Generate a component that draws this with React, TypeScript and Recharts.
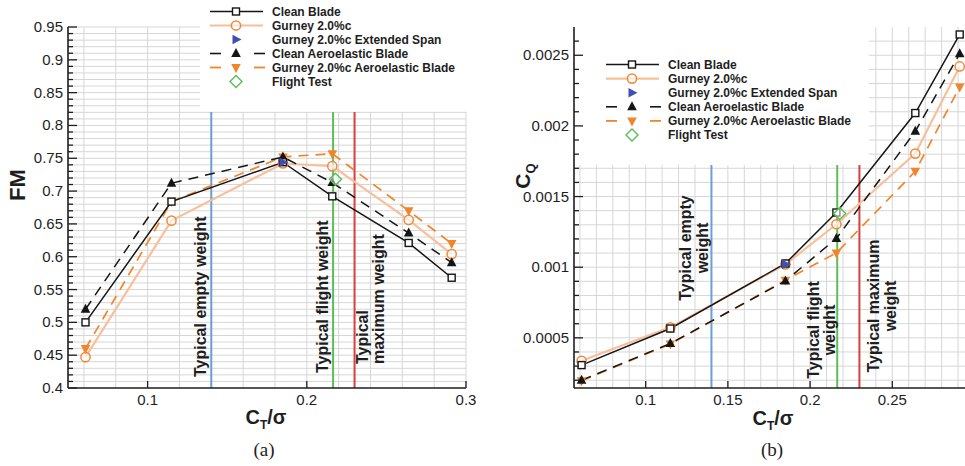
import React from 'react';
import { LineChart, Line, XAxis, YAxis, CartesianGrid, ReferenceLine } from 'recharts';

// ---- data -------------------------------------------------------------
const ctSigma = [0.061, 0.115, 0.185, 0.216, 0.264, 0.291];

const fmClean = [0.5, 0.684, 0.744, 0.692, 0.621, 0.568];
const fmGurney = [0.447, 0.655, 0.742, 0.738, 0.656, 0.604];
const fmCleanAero = [0.52, 0.712, 0.752, 0.713, 0.636, 0.591];
const fmGurneyAero = [0.46, 0.684, 0.752, 0.757, 0.67, 0.62];

const cqClean = [0.000307, 0.000566, 0.001026, 0.001387, 0.002091, 0.002647];
const cqGurney = [0.000338, 0.000574, 0.00102, 0.001304, 0.001804, 0.002421];
const cqCleanAero = [0.0002, 0.00046, 0.000903, 0.001203, 0.001962, 0.002511];
const cqGurneyAero = [0.000196, 0.000456, 0.000908, 0.001101, 0.001679, 0.002275];

const extSpanCt = [0.185];
const fmExtSpan = [0.744];
const cqExtSpan = [0.00102];

const flightCt = [0.218];
const fmFlight = [0.718];
const cqFlight = [0.00138];

const weightCt = { empty: 0.14, flight: 0.2165, maximum: 0.23 };

const fmMajor = [0.4, 0.45, 0.5, 0.55, 0.6, 0.65, 0.7, 0.75, 0.8, 0.85, 0.9, 0.95];
const fmMajorLabels = ['0.4', '0.45', '0.5', '0.55', '0.6', '0.65', '0.7', '0.75', '0.8', '0.85', '0.9', '0.95'];
const cqMajor = [0.0005, 0.001, 0.0015, 0.002, 0.0025];
const cqMajorLabels = ['0.0005', '0.001', '0.0015', '0.002', '0.0025'];
const ctMajorA = [0.1, 0.2, 0.3];
const ctMajorLabelsA = ['0.1', '0.2', '0.3'];
const ctMajorB = [0.1, 0.15, 0.2, 0.25];
const ctMajorLabelsB = ['0.1', '0.15', '0.2', '0.25'];

const legendNames = [
  'Clean Blade',
  'Gurney 2.0%c',
  'Gurney 2.0%c Extended Span',
  'Clean Aeroelastic Blade',
  'Gurney 2.0%c Aeroelastic Blade',
  'Flight Test',
];

// ---- helpers ----------------------------------------------------------
const steps = (from: number, to: number, step: number, dec: number) => {
  const out: number[] = [];
  for (let i = 0; from + i * step <= to + step / 2; i++) out.push(+(from + i * step).toFixed(dec));
  return out;
};
const pairs = (xs: number[], ys: number[]) => xs.map((x, i) => ({ x, y: ys[i] }));

const SANS = '"Liberation Sans", Arial, Helvetica, sans-serif';
const INK = '#1e1e1e';
const GRID = '#d6d6d6';
const C_CLEAN = '#151515';
const C_GURNEY_LINE = '#f8c09a';
const C_GURNEY_MARK = '#ef8a3d';
const C_GURNEY_AERO = '#f2852a';
const C_EXT = '#3e4fb8';
const C_FLIGHT = '#55bf55';
const C_EMPTY = '#6a9fd8';
const C_FLIGHTW = '#5cbf55';
const C_MAXW = '#d8403f';
const DASH = '10 7';

// ---- markers ----------------------------------------------------------
type Shape = 'square' | 'circle' | 'triUp' | 'triDown' | 'triRight' | 'diamond';
const Marker = ({ cx, cy, shape }: { cx: number; cy: number; shape: Shape }) => {
  if (cx == null || cy == null || isNaN(cx) || isNaN(cy)) return null;
  switch (shape) {
    case 'square':
      return <rect x={cx - 3.5} y={cy - 3.5} width={7} height={7} fill="#fff" stroke={C_CLEAN} strokeWidth={1.4} />;
    case 'circle':
      return <circle cx={cx} cy={cy} r={4.6} fill="#fff" fillOpacity={0.6} stroke={C_GURNEY_MARK} strokeWidth={1.5} />;
    case 'triUp':
      return <polygon points={`${cx},${cy - 5.5} ${cx - 4.8},${cy + 3.5} ${cx + 4.8},${cy + 3.5}`} fill={C_CLEAN} />;
    case 'triDown':
      return <polygon points={`${cx},${cy + 5.5} ${cx - 4.8},${cy - 3.5} ${cx + 4.8},${cy - 3.5}`} fill={C_GURNEY_AERO} />;
    case 'triRight':
      return <polygon points={`${cx + 5.5},${cy} ${cx - 3.5},${cy - 4.8} ${cx - 3.5},${cy + 4.8}`} fill={C_EXT} />;
    case 'diamond':
      return <polygon points={`${cx},${cy - 6} ${cx + 6},${cy} ${cx},${cy + 6} ${cx - 6},${cy}`} fill="#fff" fillOpacity={0.5} stroke={C_FLIGHT} strokeWidth={1.4} />;
  }
  return null;
};
const dotOf = (shape: Shape) => (p: any) => <Marker key={`m-${shape}-${p.index}`} cx={p.cx} cy={p.cy} shape={shape} />;

// ---- axis ticks (inward tick marks, Tecplot style) --------------------
const isMajor = (v: number, majors: number[]) => majors.findIndex((m) => Math.abs(m - v) < 1e-9);

const YTick = (p: any) => {
  const { x, y, payload, majors, labels } = p;
  const k = isMajor(payload.value, majors);
  return (
    <g>
      <line x1={x} y1={y} x2={x + (k >= 0 ? 9 : 5)} y2={y} stroke={INK} strokeWidth={1.3} />
      {k >= 0 && (
        <text x={x - 5} y={y + 5} textAnchor="end" fontSize={15} fontFamily={SANS} fill={INK}>
          {labels[k]}
        </text>
      )}
    </g>
  );
};
const XTick = (p: any) => {
  const { x, y, payload, majors, labels } = p;
  const k = isMajor(payload.value, majors);
  return (
    <g>
      <line x1={x} y1={y} x2={x} y2={y - (k >= 0 ? 7 : 4)} stroke={INK} strokeWidth={1.3} />
      {k >= 0 && (
        <text x={x} y={y + 17} textAnchor="middle" fontSize={15} fontFamily={SANS} fill={INK}>
          {labels[k]}
        </text>
      )}
    </g>
  );
};

// grid lines stop at the legend panel
const gridRenderers = (box: { left: number; right: number; bottom: number }) => ({
  h: (p: any) => {
    let x1 = p.x1;
    let x2 = p.x2;
    if (p.y1 < box.bottom) {
      if (box.left <= x1 + 1) x1 = box.right;
      else x2 = box.left;
    }
    return <line key={`h-${p.index}`} x1={x1} y1={p.y1} x2={x2} y2={p.y2} stroke={GRID} strokeWidth={1} />;
  },
  v: (p: any) => {
    const inside = p.x1 > box.left && p.x1 < box.right;
    const y1 = inside ? box.bottom : p.y1;
    return <line key={`v-${p.index}`} x1={p.x1} y1={y1} x2={p.x2} y2={p.y2} stroke={GRID} strokeWidth={1} />;
  },
});

const axisLine = { stroke: INK, strokeWidth: 1.6 };

// ---- panel (a): figure of merit --------------------------------------
const PanelA = () => {
  const g = gridRenderers({ left: 200, right: 470, bottom: 112 });
  const top = 0.8205;
  return (
    <LineChart width={480} height={466} margin={{ top: 27, right: 14, bottom: 77, left: 67 }}>
      <CartesianGrid
        horizontal={g.h}
        vertical={g.v}
        horizontalValues={steps(0.41, 0.95, 0.01, 2)}
        verticalValues={steps(0.06, 0.3, 0.02, 2)}
      />
      <ReferenceLine segment={[{ x: weightCt.empty, y: 0.4 }, { x: weightCt.empty, y: top }]} stroke={C_EMPTY} strokeWidth={2} />
      <ReferenceLine segment={[{ x: weightCt.flight, y: 0.4 }, { x: weightCt.flight, y: top }]} stroke={C_FLIGHTW} strokeWidth={2} />
      <ReferenceLine segment={[{ x: weightCt.maximum, y: 0.4 }, { x: weightCt.maximum, y: top }]} stroke={C_MAXW} strokeWidth={2} />
      <XAxis
        type="number"
        dataKey="x"
        domain={[0.05, 0.3]}
        ticks={ctMajorA}
        interval={0}
        height={1}
        tickSize={0}
        tickMargin={0}
        tickLine={false}
        axisLine={axisLine}
        allowDataOverflow
        tick={(p: any) => <XTick {...p} majors={ctMajorA} labels={ctMajorLabelsA} />}
      />
      <YAxis
        type="number"
        dataKey="y"
        domain={[0.4, 0.95]}
        ticks={steps(0.4, 0.95, 0.01, 2)}
        interval={0}
        width={1}
        tickSize={0}
        tickMargin={0}
        tickLine={false}
        axisLine={axisLine}
        allowDataOverflow
        tick={(p: any) => <YTick {...p} majors={fmMajor} labels={fmMajorLabels} />}
      />
      <Line data={pairs(ctSigma, fmGurney)} dataKey="y" type="linear" stroke={C_GURNEY_LINE} strokeWidth={2.2} dot={dotOf('circle')} activeDot={false} isAnimationActive={false} />
      <Line data={pairs(ctSigma, fmGurneyAero)} dataKey="y" type="linear" stroke={C_GURNEY_AERO} strokeWidth={1.7} strokeDasharray={DASH} dot={dotOf('triDown')} activeDot={false} isAnimationActive={false} />
      <Line data={pairs(ctSigma, fmCleanAero)} dataKey="y" type="linear" stroke={C_CLEAN} strokeWidth={1.5} strokeDasharray={DASH} dot={dotOf('triUp')} activeDot={false} isAnimationActive={false} />
      <Line data={pairs(ctSigma, fmClean)} dataKey="y" type="linear" stroke={C_CLEAN} strokeWidth={1.5} dot={dotOf('square')} activeDot={false} isAnimationActive={false} />
      <Line data={pairs(extSpanCt, fmExtSpan)} dataKey="y" stroke="none" dot={dotOf('triRight')} activeDot={false} isAnimationActive={false} />
      <Line data={pairs(flightCt, fmFlight)} dataKey="y" stroke="none" dot={dotOf('diamond')} activeDot={false} isAnimationActive={false} />
    </LineChart>
  );
};

// ---- panel (b): torque coefficient -----------------------------------
const PanelB = () => {
  const g = gridRenderers({ left: 94, right: 389, bottom: 165 });
  const top = 0.001723;
  const lo = 0.000145;
  return (
    <LineChart width={500} height={466} margin={{ top: 27, right: 5.5, bottom: 77, left: 93 }}>
      <CartesianGrid
        horizontal={g.h}
        vertical={g.v}
        horizontalValues={steps(0.0002, 0.0026, 0.0001, 4)}
        verticalValues={steps(0.06, 0.29, 0.01, 2)}
      />
      <ReferenceLine segment={[{ x: weightCt.empty, y: lo }, { x: weightCt.empty, y: top }]} stroke={C_EMPTY} strokeWidth={2} />
      <ReferenceLine segment={[{ x: weightCt.flight, y: lo }, { x: weightCt.flight, y: top }]} stroke={C_FLIGHTW} strokeWidth={2} />
      <ReferenceLine segment={[{ x: weightCt.maximum, y: lo }, { x: weightCt.maximum, y: top }]} stroke={C_MAXW} strokeWidth={2} />
      <XAxis
        type="number"
        dataKey="x"
        domain={[0.0564, 0.3]}
        ticks={ctMajorB}
        interval={0}
        height={1}
        tickSize={0}
        tickMargin={0}
        tickLine={false}
        axisLine={axisLine}
        allowDataOverflow
        tick={(p: any) => <XTick {...p} majors={ctMajorB} labels={ctMajorLabelsB} />}
      />
      <YAxis
        type="number"
        dataKey="y"
        domain={[lo, 0.0027]}
        ticks={steps(0.0002, 0.0026, 0.0001, 4)}
        interval={0}
        width={1}
        tickSize={0}
        tickMargin={0}
        tickLine={false}
        axisLine={axisLine}
        allowDataOverflow
        tick={(p: any) => <YTick {...p} majors={cqMajor} labels={cqMajorLabels} />}
      />
      <Line data={pairs(ctSigma, cqGurney)} dataKey="y" type="linear" stroke={C_GURNEY_LINE} strokeWidth={2.2} dot={dotOf('circle')} activeDot={false} isAnimationActive={false} />
      <Line data={pairs(ctSigma, cqGurneyAero)} dataKey="y" type="linear" stroke={C_GURNEY_AERO} strokeWidth={1.7} strokeDasharray={DASH} dot={dotOf('triDown')} activeDot={false} isAnimationActive={false} />
      <Line data={pairs(ctSigma, cqCleanAero)} dataKey="y" type="linear" stroke={C_CLEAN} strokeWidth={1.5} strokeDasharray={DASH} dot={dotOf('triUp')} activeDot={false} isAnimationActive={false} />
      <Line data={pairs(ctSigma, cqClean)} dataKey="y" type="linear" stroke={C_CLEAN} strokeWidth={1.5} dot={dotOf('square')} activeDot={false} isAnimationActive={false} />
      <Line data={pairs(extSpanCt, cqExtSpan)} dataKey="y" stroke="none" dot={dotOf('triRight')} activeDot={false} isAnimationActive={false} />
      <Line data={pairs(flightCt, cqFlight)} dataKey="y" stroke="none" dot={dotOf('diamond')} activeDot={false} isAnimationActive={false} />
    </LineChart>
  );
};

// ---- legend, titles and weight annotations ---------------------------
const legendStyle: { shape: Shape; line: 'solid' | 'dash' | 'none'; color: string; width: number }[] = [
  { shape: 'square', line: 'solid', color: C_CLEAN, width: 1.5 },
  { shape: 'circle', line: 'solid', color: C_GURNEY_LINE, width: 2.2 },
  { shape: 'triRight', line: 'none', color: C_EXT, width: 0 },
  { shape: 'triUp', line: 'dash', color: C_CLEAN, width: 1.6 },
  { shape: 'triDown', line: 'dash', color: C_GURNEY_AERO, width: 1.8 },
  { shape: 'diamond', line: 'none', color: C_FLIGHT, width: 0 },
];

const LegendBlock = ({ x0, y0, dy }: { x0: number; y0: number; dy: number }) => (
  <g>
    {legendNames.map((name, i) => {
      const s = legendStyle[i];
      const cy = y0 + i * dy;
      const cx = x0 + 26;
      return (
        <g key={name}>
          {s.line === 'solid' && <line x1={x0} y1={cy} x2={x0 + 53} y2={cy} stroke={s.color} strokeWidth={s.width} />}
          {s.line === 'dash' && (
            <g>
              <line x1={x0} y1={cy} x2={x0 + 11} y2={cy} stroke={s.color} strokeWidth={s.width} />
              <line x1={x0 + 44} y1={cy} x2={x0 + 55} y2={cy} stroke={s.color} strokeWidth={s.width} />
            </g>
          )}
          <Marker cx={cx} cy={cy} shape={s.shape} />
          <text x={x0 + 62} y={cy + 4.3} fontSize={12} fontWeight="bold" fontFamily={SANS} fill={INK}>
            {name}
          </text>
        </g>
      );
    })}
  </g>
);

const VText = ({ x, y, children, anchor = 'start' }: { x: number; y: number; children: React.ReactNode; anchor?: string }) => (
  <text
    transform={`translate(${x},${y}) rotate(-90)`}
    textAnchor={anchor}
    fontSize={16}
    fontWeight="bold"
    fontFamily={SANS}
    fill={INK}
  >
    {children}
  </text>
);

const Overlay = () => (
  <svg width={965} height={466} style={{ position: 'absolute', left: 0, top: 0, pointerEvents: 'none' }}>
    <LegendBlock x0={210} y0={11.5} dy={14} />
    <LegendBlock x0={606} y0={64.5} dy={14.1} />

    {/* panel (a) annotations */}
    <VText x={206} y={377}>Typical empty weight</VText>
    <VText x={328} y={373}>Typical flight weight</VText>
    <VText x={368} y={364}>Typical</VText>
    <VText x={384} y={364}>maximum weight</VText>

    {/* panel (b) annotations */}
    <VText x={691} y={248} anchor="middle">Typical empty</VText>
    <VText x={708} y={248} anchor="middle">weight</VText>
    <VText x={819} y={330} anchor="middle">Typical flight</VText>
    <VText x={835} y={330} anchor="middle">weight</VText>
    <VText x={879} y={306} anchor="middle">Typical maximum</VText>
    <VText x={896} y={306} anchor="middle">weight</VText>

    {/* axis titles */}
    <text transform="translate(25,185) rotate(-90)" textAnchor="middle" fontSize={22} fontWeight="bold" fontFamily={SANS} fill={INK}>
      FM
    </text>
    <text transform="translate(530,176) rotate(-90)" textAnchor="middle" fontWeight="bold" fontFamily={SANS} fill={INK}>
      <tspan fontSize={21}>C</tspan>
      <tspan fontSize={13} dy={5}>Q</tspan>
    </text>
    <text x={266} y={424} textAnchor="middle" fontWeight="bold" fontFamily={SANS} fill={INK}>
      <tspan fontSize={20}>C</tspan>
      <tspan fontSize={12} dy={5}>T</tspan>
      <tspan fontSize={20} dy={-5}>/σ</tspan>
    </text>
    <text x={773} y={425} textAnchor="middle" fontWeight="bold" fontFamily={SANS} fill={INK}>
      <tspan fontSize={20}>C</tspan>
      <tspan fontSize={12} dy={5}>T</tspan>
      <tspan fontSize={20} dy={-5}>/σ</tspan>
    </text>

    {/* captions */}
    <text x={264} y={456} textAnchor="middle" fontSize={19} fontFamily='"Liberation Serif", "DejaVu Serif", serif' fill={INK}>
      (a)
    </text>
    <text x={772} y={456} textAnchor="middle" fontSize={19} fontFamily='"Liberation Serif", "DejaVu Serif", serif' fill={INK}>
      (b)
    </text>
  </svg>
);

export default function App() {
  return (
    <div style={{ position: 'absolute', left: 0, top: 0, width: 965, height: 466, overflow: 'hidden', background: '#fff' }}>
      <div style={{ position: 'absolute', left: 0, top: 0 }}>
        <PanelA />
      </div>
      <div style={{ position: 'absolute', left: 480, top: 0 }}>
        <PanelB />
      </div>
      <Overlay />
    </div>
  );
}
